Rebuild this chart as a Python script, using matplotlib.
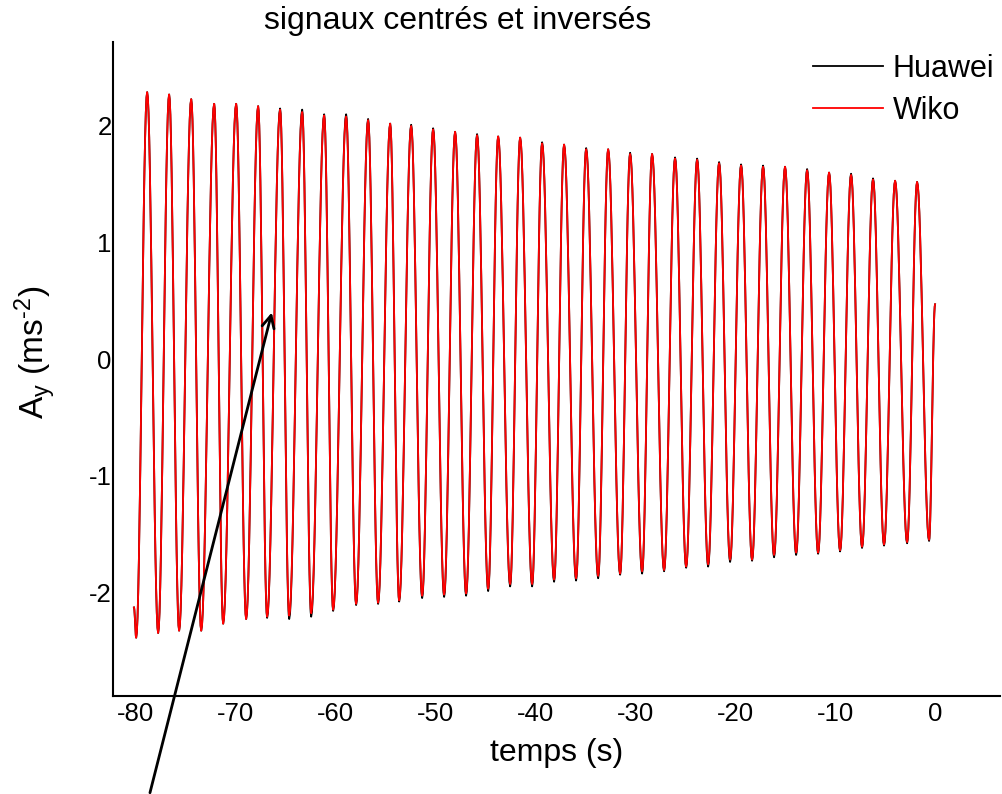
import numpy as np
import matplotlib
matplotlib.use("Agg")
import matplotlib.pyplot as plt

plt.rcParams['font.family'] = ['Liberation Sans', 'DejaVu Sans']
plt.rcParams['mathtext.fontset'] = 'custom'
plt.rcParams['mathtext.rm'] = 'Liberation Sans'
plt.rcParams['mathtext.it'] = 'Liberation Sans:italic'
plt.rcParams['axes.unicode_minus'] = False

# ---- data (extrema of the signals) ----
start_t, start_v = -80.2, -2.13
end_t, end_v = 0.0, 0.47

trough_t = [-79.98, -77.78, -75.68, -73.47, -71.27, -68.97, -66.87, -64.66, -62.46,
            -60.26, -57.96, -55.76, -53.65, -51.35, -49.15, -46.95, -44.74, -42.54,
            -40.34, -38.14, -35.94, -33.73, -31.53, -29.33, -27.13, -24.92, -22.72,
            -20.52, -18.32, -16.12, -13.91, -11.71, -9.51, -7.31, -5.11, -2.80, -0.60]
peak_t = [-78.88, -76.68, -74.47, -72.17, -69.97, -67.77, -65.57, -63.36, -61.16,
          -58.96, -56.76, -54.55, -52.45, -50.25, -48.05, -45.85, -43.74, -41.54,
          -39.34, -37.14, -34.93, -32.73, -30.53, -28.33, -26.03, -23.82, -21.62,
          -19.42, -17.22, -15.02, -12.81, -10.61, -8.41, -6.21, -4.00, -1.80]

wiko_peaks = [2.29, 2.27, 2.23, 2.19, 2.19, 2.17, 2.14, 2.12, 2.09, 2.08, 2.05, 2.02,
              2.00, 1.97, 1.95, 1.92, 1.91, 1.90, 1.85, 1.84, 1.80, 1.80, 1.76, 1.76,
              1.72, 1.71, 1.68, 1.66, 1.65, 1.65, 1.62, 1.60, 1.58, 1.54, 1.53, 1.52]
wiko_troughs = [-2.39, -2.35, -2.33, -2.33, -2.27, -2.23, -2.21, -2.20, -2.18, -2.15,
                -2.10, -2.09, -2.07, -2.03, -2.02, -2.01, -1.97, -1.93, -1.93, -1.89,
                -1.88, -1.86, -1.84, -1.82, -1.81, -1.78, -1.76, -1.72, -1.72, -1.68,
                -1.66, -1.66, -1.64, -1.61, -1.59, -1.57, -1.55]

huawei_peaks = [2.29, 2.27, 2.23, 2.19, 2.19, 2.17, 2.15, 2.14, 2.10, 2.10, 2.06, 2.02,
                2.01, 1.98, 1.95, 1.93, 1.91, 1.90, 1.86, 1.84, 1.81, 1.80, 1.77, 1.76,
                1.73, 1.72, 1.69, 1.67, 1.66, 1.65, 1.63, 1.60, 1.59, 1.55, 1.53, 1.52]
huawei_troughs = [-2.39, -2.35, -2.33, -2.33, -2.27, -2.23, -2.22, -2.23, -2.21, -2.16,
                  -2.11, -2.10, -2.08, -2.05, -2.04, -2.03, -1.99, -1.95, -1.95, -1.91,
                  -1.90, -1.88, -1.85, -1.84, -1.82, -1.79, -1.78, -1.74, -1.73, -1.70,
                  -1.68, -1.67, -1.65, -1.62, -1.60, -1.58, -1.56]

series_names = ["Huawei", "Wiko"]
series_colors = ["black", "red"]

x_ticks = [-80, -70, -60, -50, -40, -30, -20, -10, 0]
y_ticks = [-2, -1, 0, 1, 2]


def curve(peaks, troughs):
    """Smooth curve passing through the read extrema (half-cosine segments)."""
    kt, kv = [start_t], [start_v]
    for i in range(len(troughs)):
        kt.append(trough_t[i]); kv.append(troughs[i])
        if i < len(peaks):
            kt.append(peak_t[i]); kv.append(peaks[i])
    kt.append(end_t); kv.append(end_v)
    ts, vs = [], []
    s = np.linspace(0, 1, 16, endpoint=False)
    for j in range(len(kt) - 1):
        w = 0.5 - 0.5 * np.cos(np.pi * s)
        ts.extend(kt[j] + (kt[j + 1] - kt[j]) * s)
        vs.extend(kv[j] + (kv[j + 1] - kv[j]) * w)
    ts.append(kt[-1]); vs.append(kv[-1])
    return np.array(ts), np.array(vs)


fig = plt.figure(figsize=(10.02, 7.94), dpi=100)
ax = fig.add_axes([113 / 1002, 98 / 794, 887 / 1002, 654 / 794])

for name, col, pk, tr in [(series_names[0], series_colors[0], huawei_peaks, huawei_troughs),
                          (series_names[1], series_colors[1], wiko_peaks, wiko_troughs)]:
    t, v = curve(pk, tr)
    ax.plot(t, v, color=col, lw=1.3, label=name)

ax.set_xlim(-82.3, 6.5)
ax.set_ylim(-2.89, 2.72)
ax.set_xticks(x_ticks)
ax.set_yticks(y_ticks)
ax.tick_params(axis='both', length=0, labelsize=18.5)
ax.tick_params(axis='x', pad=4)
ax.tick_params(axis='y', pad=1)
for s in ['top', 'right']:
    ax.spines[s].set_visible(False)
for s in ['left', 'bottom']:
    ax.spines[s].set_linewidth(1.5)

ax.set_xlabel("temps (s)", fontsize=23, labelpad=9)
ax.set_ylabel(r"A$_\mathregular{y}$ (ms$^{\text{-2}}$)", fontsize=24)
ax.yaxis.set_label_coords(-0.062, 0.525)

fig.text(458 / 1002, 1 - 21 / 794, "signaux centrés et inversés", fontsize=23,
         ha='center', va='center')

leg = ax.legend(loc='upper left', bbox_to_anchor=(813 / 1002, 1 - 54 / 794),
                bbox_transform=fig.transFigure, frameon=False, fontsize=22,
                handlelength=2.3, handletextpad=0.3, labelspacing=0.38,
                borderpad=0, borderaxespad=0)

ax.annotate("", xy=(-66.4, 0.40), xytext=(-78.6, -3.72),
            xycoords='data', textcoords='data', annotation_clip=False,
            arrowprops=dict(arrowstyle='->', lw=2.0, color='black',
                            mutation_scale=22, shrinkA=0, shrinkB=0))

fig.savefig("out.png", dpi=100)
